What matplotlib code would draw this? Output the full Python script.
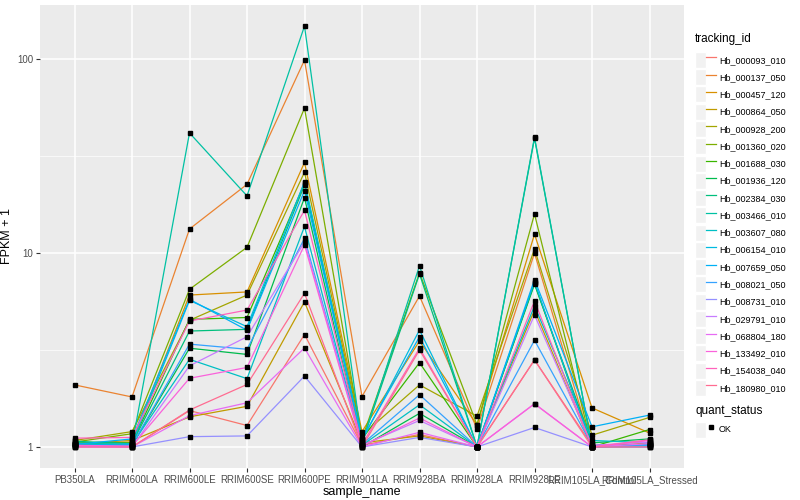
import numpy as np
import matplotlib
matplotlib.use('Agg')
from matplotlib import pyplot as plt
from matplotlib.lines import Line2D
from matplotlib.patches import Rectangle
from matplotlib.legend_handler import HandlerTuple
from matplotlib.ticker import FixedLocator, NullFormatter

plt.rcParams['font.family'] = ['Liberation Sans', 'DejaVu Sans']

samples = ['PB350LA', 'RRIM600LA', 'RRIM600LE', 'RRIM600SE', 'RRIM600PE', 'RRIM901LA',
           'RRIM928BA', 'RRIM928LA', 'RRIM928LE', 'RRIM105LA_Control', 'RRIM105LA_Stressed']

tracking_ids = ['Hb_000093_010', 'Hb_000137_050', 'Hb_000457_120', 'Hb_000864_050',
                'Hb_000928_200', 'Hb_001360_020', 'Hb_001688_030', 'Hb_001936_120',
                'Hb_002384_030', 'Hb_003466_010', 'Hb_003607_080', 'Hb_006154_010',
                'Hb_007659_050', 'Hb_008021_050', 'Hb_008731_010', 'Hb_029791_010',
                'Hb_068804_180', 'Hb_133492_010', 'Hb_154038_040', 'Hb_180980_010']

# ggplot default hue palette, 20 levels
colours = ['#F8766D', '#EA8331', '#D89000', '#C09B00', '#A3A500', '#7CAE00', '#39B600',
           '#00BB4E', '#00BF7D', '#00C1A3', '#00BFC4', '#00BAE0', '#00B0F6', '#35A2FF',
           '#9590FF', '#C77CFF', '#E76BF3', '#FA62DB', '#FF62BC', '#FF6C91']

# FPKM + 1 per sample, one list per gene
hb_000093_010 = [1.02, 1.00, 1.54, 1.29, 3.8, 1.02, 1.16, 1.00, 2.81, 1.02, 1.03]
hb_000137_050 = [2.09, 1.81, 13.3, 22.6, 98.8, 1.82, 6.0, 1.24, 10.0, 1.00, 1.02]
hb_000457_120 = [1.03, 1.06, 6.07, 6.3, 29.3, 1.20, 3.52, 1.30, 12.5, 1.59, 1.18]
hb_000864_050 = [1.04, 1.08, 1.43, 1.62, 5.6, 1.05, 1.14, 1.00, 5.08, 1.00, 1.05]
hb_000928_200 = [1.08, 1.20, 4.5, 6.07, 26.1, 1.15, 2.09, 1.44, 10.5, 1.15, 1.42]
hb_001360_020 = [1.06, 1.17, 6.5, 10.7, 55.9, 1.10, 7.9, 1.30, 15.9, 1.00, 1.01]
hb_001688_030 = [1.05, 1.05, 4.55, 4.65, 22.9, 1.10, 2.72, 1.00, 7.0, 1.00, 1.23]
hb_001936_120 = [1.03, 1.02, 3.23, 3.0, 19.3, 1.00, 1.49, 1.00, 6.9, 1.05, 1.10]
hb_002384_030 = [1.07, 1.04, 3.96, 4.04, 22.4, 1.05, 7.8, 1.00, 39.0, 1.00, 1.02]
hb_003466_010 = [1.05, 1.02, 41.6, 19.7, 148.0, 1.05, 8.6, 1.00, 39.6, 1.00, 1.00]
hb_003607_080 = [1.04, 1.03, 2.83, 2.25, 13.7, 1.02, 1.65, 1.00, 5.33, 1.08, 1.05]
hb_006154_010 = [1.02, 1.04, 5.7, 4.17, 23.3, 1.08, 4.01, 1.00, 7.1, 1.00, 1.03]
hb_007659_050 = [1.03, 1.10, 5.77, 4.0, 21.0, 1.10, 3.7, 1.00, 7.3, 1.27, 1.46]
hb_008021_050 = [1.01, 1.02, 3.39, 3.19, 11.9, 1.03, 1.86, 1.00, 3.55, 1.02, 1.02]
hb_008731_010 = [1.00, 1.00, 1.13, 1.14, 2.32, 1.00, 1.12, 1.00, 1.26, 1.00, 1.00]
hb_029791_010 = [1.01, 1.00, 2.62, 3.7, 11.4, 1.02, 1.37, 1.00, 4.79, 1.02, 1.06]
hb_068804_180 = [1.00, 1.00, 1.45, 1.69, 3.24, 1.00, 1.19, 1.00, 1.67, 1.00, 1.04]
hb_133492_010 = [1.02, 1.01, 2.26, 2.57, 11.0, 1.01, 1.41, 1.00, 1.67, 1.00, 1.08]
hb_154038_040 = [1.11, 1.12, 4.46, 5.08, 16.6, 1.03, 3.23, 1.00, 5.66, 1.00, 1.09]
hb_180980_010 = [1.00, 1.00, 1.55, 2.1, 6.2, 1.00, 3.16, 1.00, 2.81, 1.00, 1.00]

series = [hb_000093_010, hb_000137_050, hb_000457_120, hb_000864_050, hb_000928_200,
          hb_001360_020, hb_001688_030, hb_001936_120, hb_002384_030, hb_003466_010,
          hb_003607_080, hb_006154_010, hb_007659_050, hb_008021_050, hb_008731_010,
          hb_029791_010, hb_068804_180, hb_133492_010, hb_154038_040, hb_180980_010]

fig = plt.figure(figsize=(8, 5), dpi=100)
ax = fig.add_axes([0.05, 0.064, 0.805, 0.926])
ax.set_facecolor('#EBEBEB')
for s in ax.spines.values():
    s.set_visible(False)

x = np.arange(len(samples))
for vals, col in zip(series, colours):
    ax.plot(x, vals, color=col, lw=0.9, zorder=2)
for vals in series:
    ax.plot(x, vals, ls='none', marker='s', ms=2.2, color='black', zorder=3)

ax.set_yscale('log')
allv = np.log10(np.concatenate([np.array(v) for v in series]))
lo, hi = allv.min(), allv.max()
pad = 0.05 * (hi - lo)
ax.set_ylim(10 ** (lo - pad), 10 ** (hi + pad))
ax.set_xlim(-0.6, len(samples) - 0.4)

ax.yaxis.set_major_locator(FixedLocator([1, 10, 100]))
ax.yaxis.set_minor_locator(FixedLocator([10 ** 0.5, 10 ** 1.5]))
ax.yaxis.set_minor_formatter(NullFormatter())
ax.set_yticklabels(['1', '10', '100'])
ax.set_xticks(x)
ax.set_xticklabels(samples)
ax.grid(which='major', color='white', lw=1.1, zorder=0)
ax.grid(which='minor', axis='y', color='white', lw=0.5, zorder=0)
ax.set_axisbelow(True)
ax.tick_params(axis='both', which='major', length=3, width=0.8, color='#333333',
               labelsize=7, labelcolor='#4D4D4D', pad=2)
ax.tick_params(axis='y', which='minor', length=0)

ax.set_xlabel('sample_name', fontsize=9, labelpad=1)
ax.set_ylabel('FPKM + 1', fontsize=9, labelpad=3)

# legends, ggplot-style grey key boxes
handles = []
for col in colours:
    bg = Rectangle((0, 0), 1, 1, facecolor='#F2F2F2', edgecolor='white', lw=1)
    ln = Line2D([0], [0], color=col, lw=0.9)
    handles.append((bg, ln))
leg1 = fig.legend(handles, tracking_ids, loc='upper left', bbox_to_anchor=(0.869, 0.934),
                  frameon=False, fontsize=6.5, title='tracking_id', title_fontsize=8.5,
                  handler_map={tuple: HandlerTuple(ndivide=None, pad=0)},
                  handlelength=2.3, handleheight=2.35, labelspacing=0.14,
                  handletextpad=0.35, borderaxespad=0, borderpad=0)
leg1._legend_box.align = 'left'
leg1._legend_box.sep = 5

bg = Rectangle((0, 0), 1, 1, facecolor='#F2F2F2', edgecolor='white', lw=1)
pt = Line2D([0], [0], ls='none', marker='s', ms=2.2, color='black')
leg2 = fig.legend([(bg, pt)], ['OK'], loc='upper left', bbox_to_anchor=(0.869, 0.19),
                  frameon=False, fontsize=6.5, title='quant_status', title_fontsize=8.5,
                  handler_map={tuple: HandlerTuple(ndivide=None, pad=0)},
                  handlelength=2.3, handleheight=2.35, handletextpad=0.35,
                  borderaxespad=0, borderpad=0)
leg2._legend_box.align = 'left'

fig.savefig('out.png', dpi=100)
